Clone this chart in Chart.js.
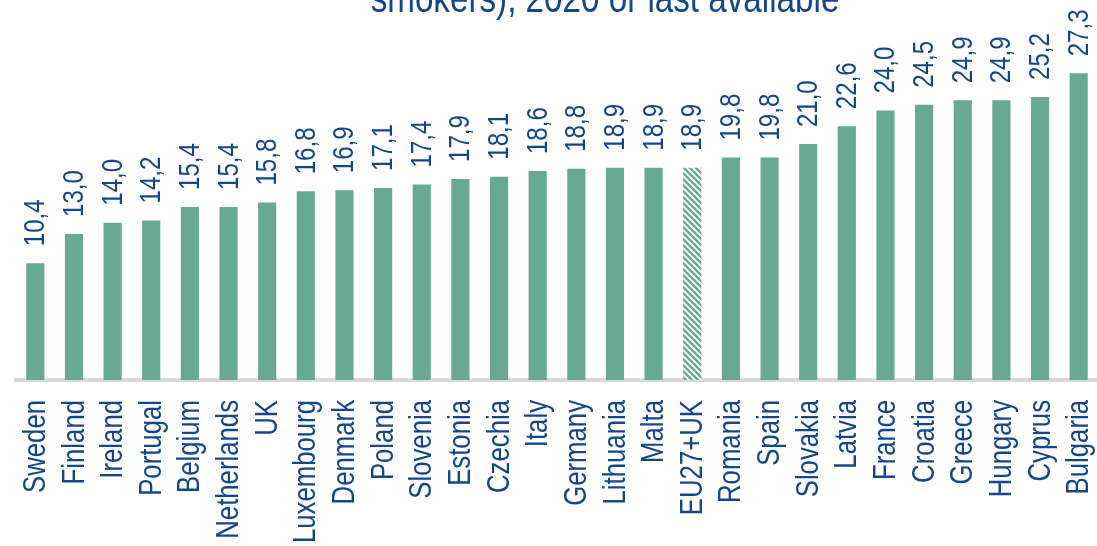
<!DOCTYPE html>
<html>
<head>
<meta charset="utf-8">
<script src="https://cdn.jsdelivr.net/npm/chart.js@4.4.1/dist/chart.umd.min.js"></script>
<style>
  html, body { margin: 0; padding: 0; background: #ffffff; overflow: hidden; }
  #wrap { position: relative; width: 1097px; height: 546px; overflow: hidden; }
  #box { position: absolute; left: 0; top: 0; width: 1100px; height: 590px; }
</style>
</head>
<body>
<div id="wrap"><div id="box"><canvas id="c" width="1100" height="590"></canvas></div></div>
<script>
const categories = ["Sweden","Finland","Ireland","Portugal","Belgium","Netherlands","UK","Luxembourg","Denmark","Poland","Slovenia","Estonia","Czechia","Italy","Germany","Lithuania","Malta","EU27+UK","Romania","Spain","Slovakia","Latvia","France","Croatia","Greece","Hungary","Cyprus","Bulgaria"];
const values = [10.4,13.0,14.0,14.2,15.4,15.4,15.8,16.8,16.9,17.1,17.4,17.9,18.1,18.6,18.8,18.9,18.9,18.9,19.8,19.8,21.0,22.6,24.0,24.5,24.9,24.9,25.2,27.3];
const highlightCategory = "EU27+UK";
const titleText = "smokers), 2020 or last available";

const GREEN = "#67a993";
const BLUE = "#14468d";
const FONT = "'Liberation Sans', Arial, sans-serif";
const NARROW = 0.83;

function hatch() {
  const p = document.createElement("canvas");
  p.width = 6; p.height = 6;
  const g = p.getContext("2d");
  g.fillStyle = "#ffffff"; g.fillRect(0,0,6,6);
  g.strokeStyle = GREEN; g.lineWidth = 2.4;
  g.beginPath();
  g.moveTo(-3,-3); g.lineTo(9,9);
  g.moveTo(-3,3); g.lineTo(3,9);
  g.moveTo(3,-3); g.lineTo(9,3);
  g.stroke();
  return g.createPattern(p, "repeat");
}
const ctx0 = document.getElementById("c").getContext("2d");
const pattern = hatch();
const colors = categories.map(c => c === highlightCategory ? pattern : GREEN);

function narrowText(ctx, text, x, y, rot, align, size) {
  ctx.save();
  ctx.translate(x, y);
  if (rot) ctx.rotate(rot);
  ctx.scale(NARROW, 1);
  ctx.font = size + "px " + FONT;
  ctx.textAlign = align;
  ctx.fillText(text, 0, 0);
  ctx.restore();
}

const labelsPlugin = {
  id: "labelsPlugin",
  afterDatasetsDraw(chart) {
    const ctx = chart.ctx;
    const meta = chart.getDatasetMeta(0);
    const xs = chart.scales.x;
    ctx.save();
    ctx.fillStyle = BLUE;
    ctx.textBaseline = "middle";
    meta.data.forEach((bar, i) => {
      narrowText(ctx, values[i].toFixed(1).replace(".", ","), bar.x + 1, bar.y - 17, -Math.PI / 2, "left", 29);
    });
    categories.forEach((c, i) => {
      const x = xs.getPixelForTick(i);
      narrowText(ctx, c, x + 1, chart.chartArea.bottom + 20, -Math.PI / 2, "right", 31);
    });
    ctx.textBaseline = "alphabetic";
    narrowText(ctx, titleText, 605, 12, 0, "center", 40);
    ctx.restore();
  }
};

new Chart(ctx0, {
  type: "bar",
  data: {
    labels: categories,
    datasets: [{
      data: values,
      backgroundColor: colors,
      borderWidth: 0,
      categoryPercentage: 1.0,
      barPercentage: 0.47
    }]
  },
  options: {
    responsive: false,
    animation: false,
    devicePixelRatio: 1,
    layout: { padding: { left: 16, right: 2, top: 43, bottom: 0 } },
    plugins: { legend: { display: false }, tooltip: { enabled: false }, title: { display: false } },
    scales: {
      x: {
        grid: { display: false, drawTicks: false },
        border: { display: true, color: "#d9d9d9", width: 4 },
        ticks: { display: false },
        afterFit(axis) { axis.height = 210; axis.paddingLeft = 0; axis.paddingRight = 0; }
      },
      y: {
        display: false,
        min: 0, max: 30
      }
    }
  },
  plugins: [labelsPlugin]
});
</script>
</body>
</html>
